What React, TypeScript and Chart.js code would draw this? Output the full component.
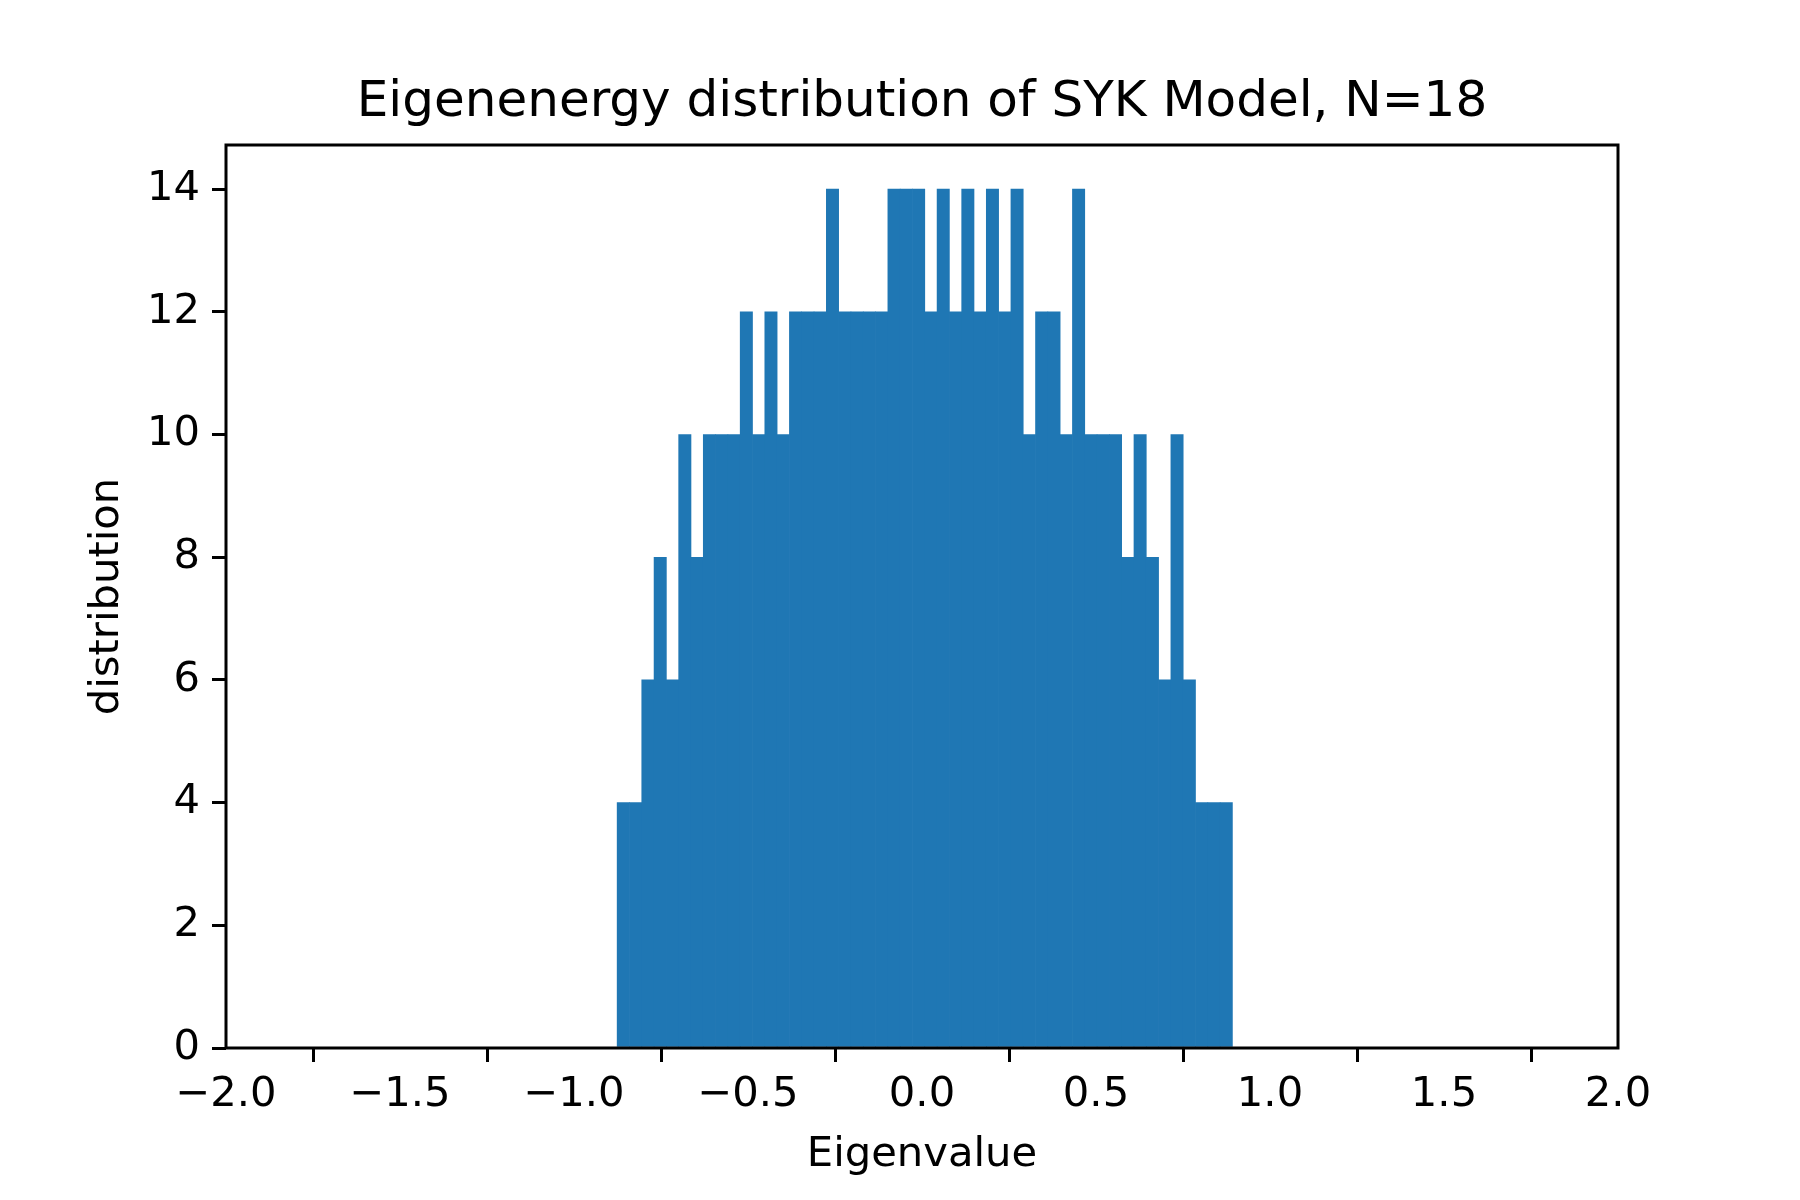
import React, { useEffect, useRef } from 'react';
import Chart from 'chart.js/auto';

// histogram: 50 equal bins from the smallest to the largest eigenvalue
const binStart = -0.876;
const binEnd = 0.892;
const counts = [
  4, 4, 6, 8, 6, 10, 8, 10, 10, 10,
  12, 10, 12, 10, 12, 12, 12, 14, 12, 12,
  12, 12, 14, 14, 14, 12, 14, 12, 14, 12,
  14, 12, 14, 10, 12, 12, 10, 14, 10, 10,
  10, 8, 10, 8, 6, 10, 6, 4, 4, 4,
];
const xTicks = [-2, -1.5, -1, -0.5, 0, 0.5, 1, 1.5, 2];
const yTicks = [0, 2, 4, 6, 8, 10, 12, 14];

const binWidth = (binEnd - binStart) / counts.length;
const points = counts.map((c, i) => ({ x: binStart + binWidth * (i + 0.5), y: c }));

const FONT = 'DejaVu Sans';
const fmt = (v: number) => v.toFixed(1).replace('-', '\u2212');

const frame = {
  id: 'frame',
  afterDraw(chart: any) {
    const { ctx, chartArea: a } = chart;
    ctx.save();
    ctx.strokeStyle = '#000';
    ctx.lineWidth = 3;
    ctx.strokeRect(a.left, a.top, a.right - a.left, a.bottom - a.top);
    ctx.fillStyle = '#000';
    ctx.textAlign = 'center';
    ctx.textBaseline = 'middle';
    ctx.font = `50px ${FONT}`;
    ctx.fillText('Eigenenergy distribution of SYK Model, N=18', (a.left + a.right) / 2, 103);
    ctx.font = `41.7px ${FONT}`;
    ctx.fillText('Eigenvalue', (a.left + a.right) / 2, 1155);
    ctx.translate(107, (a.top + a.bottom) / 2);
    ctx.rotate(-Math.PI / 2);
    ctx.fillText('distribution', 0, 0);
    ctx.restore();
  },
};

const App = () => {
  const chartRef = useRef<HTMLCanvasElement>(null);
  const chartInstance = useRef<Chart | null>(null);

  useEffect(() => {
    document.body.style.margin = '0';
    if (!chartRef.current) return;
    const ctx = chartRef.current.getContext('2d');
    if (!ctx) return;
    if (chartInstance.current) chartInstance.current.destroy();

    chartInstance.current = new Chart(ctx, {
      type: 'bar',
      data: {
        datasets: [
          {
            data: points as any,
            backgroundColor: '#1f77b4',
            borderColor: '#1f77b4',
            borderWidth: 0,
            barPercentage: 1,
            categoryPercentage: 1,
          },
        ],
      },
      options: {
        responsive: false,
        animation: false,
        layout: { padding: { top: 145, right: 182, left: 0, bottom: 0 } },
        plugins: { legend: { display: false }, tooltip: { enabled: false } },
        scales: {
          x: {
            type: 'linear',
            min: -2,
            max: 2,
            offset: false,
            afterFit: (s: any) => { s.height = 152; },
            afterBuildTicks: (s: any) => { s.ticks = xTicks.map((v) => ({ value: v })); },
            grid: { drawOnChartArea: false, drawTicks: true, tickLength: 14, color: '#000', lineWidth: 3 },
            border: { display: false },
            ticks: {
              color: '#000',
              font: { family: FONT, size: 41.7 },
              padding: 8,
              maxRotation: 0,
              callback: (v: any) => fmt(Number(v)),
            },
          },
          y: {
            min: 0,
            max: 14.72,
            afterFit: (s: any) => { s.width = 226; },
            afterBuildTicks: (s: any) => { s.ticks = yTicks.map((v) => ({ value: v })); },
            grid: { drawOnChartArea: false, drawTicks: true, tickLength: 14, color: '#000', lineWidth: 3 },
            border: { display: false },
            ticks: {
              color: '#000',
              font: { family: FONT, size: 41.7 },
              padding: 12,
              callback: (v: any) => String(v),
            },
          },
        },
      },
      plugins: [frame],
    });

    return () => {
      if (chartInstance.current) {
        chartInstance.current.destroy();
        chartInstance.current = null;
      }
    };
  }, []);

  return <canvas ref={chartRef} width={1800} height={1200} style={{ display: 'block' }}></canvas>;
};

export default App;
